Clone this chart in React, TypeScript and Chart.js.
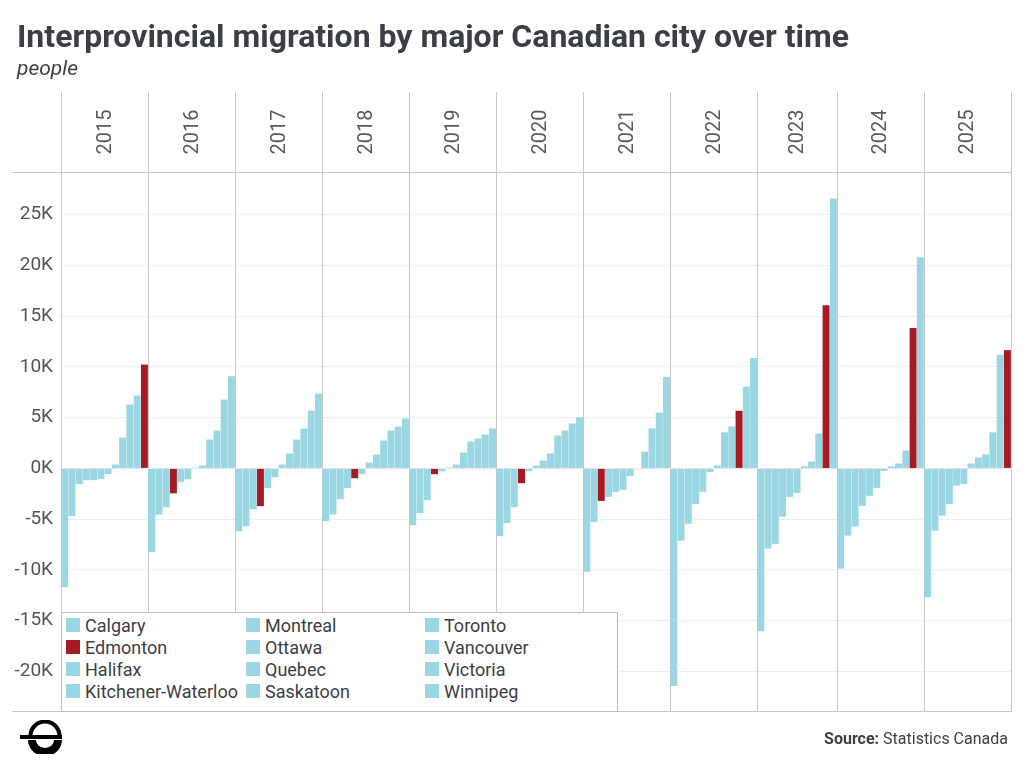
import React, { useEffect, useRef } from "react";
import { Chart, registerables } from "chart.js";

Chart.register(...registerables);

const TITLE = "Interprovincial migration by major Canadian city over time";
const SUBTITLE = "people";
const SOURCE_LABEL = "Source:";
const SOURCE_TEXT = "Statistics Canada";

const YEARS = ["2015", "2016", "2017", "2018", "2019", "2020", "2021", "2022", "2023", "2024", "2025"];

const CITIES = [
  "Calgary",
  "Edmonton",
  "Halifax",
  "Kitchener-Waterloo",
  "Montreal",
  "Ottawa",
  "Quebec",
  "Saskatoon",
  "Toronto",
  "Vancouver",
  "Victoria",
  "Winnipeg",
];

// values per city, one per year (people); null = no bar
const CALGARY = [7180, -8250, -5700, -3040, 90, 280, -2110, 10880, 26590, 20810, 11190];
const EDMONTON = [10230, -2460, -3720, -970, -570, -1460, -3200, 5680, 16080, 13830, 11650];
const HALIFAX = [-1060, 280, 1470, 1370, 1560, 3240, 9020, 8050, 3430, 1760, 3550];
const KITCHENER_WATERLOO = [-570, 2840, 2840, 2740, 2650, 1470, 1650, -2310, -2420, -1920, -1530];
const MONTREAL = [-4700, -3830, -4020, -4550, -4410, -5400, -2810, -5450, -7430, -5720, -4670];
const OTTAWA = [380, 3730, 3930, 3730, 3930, 4420, 3940, 3550, -2810, -2700, -1690];
const QUEBEC = [-1160, 90, 380, 580, 380, 780, -50, 290, 680, 210, 1070];
const SASKATOON = [-1160, -1070, -870, -570, -280, -280, -760, -370, 210, 480, 1380];
const TORONTO = [-11690, -4550, -6200, -5200, -5590, -6680, -10180, -21450, -16040, -9870, -12700];
const VANCOUVER = [6290, 9080, 7380, 4120, 2940, 3730, -5290, -7120, -7890, -6620, -6150];
const VICTORIA = [3040, 6780, 5700, 4910, 3340, 5010, 5500, 4130, null, -250, 480];
const WINNIPEG = [-1550, -1360, -1950, -1950, -3130, -3830, -2310, -3510, -4750, -3700, -3510];

const VALUES: (number | null)[][] = [
  CALGARY,
  EDMONTON,
  HALIFAX,
  KITCHENER_WATERLOO,
  MONTREAL,
  OTTAWA,
  QUEBEC,
  SASKATOON,
  TORONTO,
  VANCOUVER,
  VICTORIA,
  WINNIPEG,
];

const HIGHLIGHT = "Edmonton";
const Y_MIN = -24000;
const Y_MAX = 29200;
const Y_TICKS = [-20000, -15000, -10000, -5000, 0, 5000, 10000, 15000, 20000, 25000];

const BLUE = "#9ad7e2";
const RED = "#a61b23";
const LINE = "#c8c8c8";
const GRID = "#ededed";
const TEXT = "#3b3f45";

// Build slot layout: within each year, bars sorted ascending
const slotLabels: string[] = [];
const slotOf: (number | null)[][] = CITIES.map(() => YEARS.map(() => null));
const yearRanges: { start: number; end: number }[] = [];
YEARS.forEach((yr, yi) => {
  const present = CITIES.map((_, ci) => ci).filter((ci) => VALUES[ci][yi] != null);
  present.sort((a, b) => (VALUES[a][yi] as number) - (VALUES[b][yi] as number));
  const start = slotLabels.length;
  present.forEach((ci, r) => {
    slotOf[ci][yi] = slotLabels.length;
    slotLabels.push(`${yr}-${r + 1}`);
  });
  yearRanges.push({ start, end: slotLabels.length - 1 });
});

const panelPlugin = {
  id: "panels",
  beforeDatasetsDraw(chart: any) {
    const { ctx, chartArea, scales } = chart;
    const x = scales.x;
    const step = x.getPixelForValue(1) - x.getPixelForValue(0);
    const bounds: number[] = [x.getPixelForValue(0) - step / 2];
    yearRanges.forEach((r, i) => {
      if (i < yearRanges.length - 1) {
        bounds.push((x.getPixelForValue(r.end) + x.getPixelForValue(yearRanges[i + 1].start)) / 2);
      }
    });
    bounds.push(chartArea.right);
    ctx.save();
    ctx.strokeStyle = LINE;
    ctx.lineWidth = 1;
    // horizontal header / footer lines
    ctx.beginPath();
    ctx.moveTo(12, Math.round(chartArea.top) + 0.5);
    ctx.lineTo(chartArea.right, Math.round(chartArea.top) + 0.5);
    ctx.moveTo(12, Math.round(chartArea.bottom) - 0.5);
    ctx.lineTo(chartArea.right, Math.round(chartArea.bottom) - 0.5);
    ctx.stroke();
    // vertical separators
    ctx.beginPath();
    bounds.forEach((b) => {
      const bx = Math.round(b) + 0.5;
      ctx.moveTo(bx, 92);
      ctx.lineTo(bx, chartArea.bottom);
    });
    ctx.stroke();
    // year labels
    ctx.fillStyle = "#5a5a5a";
    ctx.font = "20px Roboto";
    ctx.textAlign = "center";
    ctx.textBaseline = "middle";
    YEARS.forEach((yr, i) => {
      const cx = (bounds[i] + bounds[i + 1]) / 2;
      ctx.save();
      ctx.translate(cx + 1, 132);
      ctx.rotate(-Math.PI / 2);
      ctx.fillText(yr, 0, 0);
      ctx.restore();
    });
    ctx.restore();
  },
  afterDatasetsDraw(chart: any) {
    const { ctx, chartArea, scales } = chart;
    const y0 = Math.round(scales.y.getPixelForValue(0)) + 0.5;
    ctx.save();
    ctx.strokeStyle = "rgba(215,215,215,0.9)";
    ctx.lineWidth = 1;
    ctx.setLineDash([1, 2]);
    ctx.beginPath();
    ctx.moveTo(chartArea.left, y0);
    ctx.lineTo(chartArea.right, y0);
    ctx.stroke();
    ctx.restore();
  },
};

function Logo() {
  return (
    <svg
      width={46}
      height={34}
      viewBox="0 0 46 34"
      style={{ position: "absolute", left: 18, top: 720 }}
    >
      <path d="M 12.5 16 A 14.5 14.5 0 0 1 41.5 16" stroke="#000" strokeWidth={4} fill="none" />
      <rect x={2} y={15} width={42} height={4} fill="#000" />
      <path d="M 14 20 A 13 12 0 0 0 40 20" stroke="#000" strokeWidth={8} fill="none" />
    </svg>
  );
}

export default function App() {
  const canvasRef = useRef<HTMLCanvasElement | null>(null);

  useEffect(() => {
    if (!canvasRef.current) return;
    const datasets = CITIES.map((city, ci) => ({
      label: city,
      data: YEARS.flatMap((_, yi) => {
        const v = VALUES[ci][yi];
        const s = slotOf[ci][yi];
        return v == null || s == null ? [] : [{ x: slotLabels[s], y: v }];
      }),
      backgroundColor: city === HIGHLIGHT ? RED : BLUE,
      grouped: false,
      barPercentage: 0.96,
      categoryPercentage: 1,
      borderWidth: 0,
    }));
    const chart = new Chart(canvasRef.current, {
      type: "bar",
      data: { labels: slotLabels, datasets: datasets as any },
      plugins: [panelPlugin],
      options: {
        responsive: false,
        animation: false,
        devicePixelRatio: 1,
        layout: { padding: { top: 172, right: 13, bottom: 56, left: 0 } },
        plugins: { legend: { display: false }, tooltip: { enabled: false } },
        scales: {
          x: { type: "category", display: false, offset: true },
          y: {
            min: Y_MIN,
            max: Y_MAX,
            border: { display: false },
            grid: { drawTicks: false, color: GRID },
            afterBuildTicks: (s: any) => {
              s.ticks = Y_TICKS.map((v) => ({ value: v }));
            },
            ticks: {
              padding: 8,
              color: "#555",
              font: { family: "Roboto", size: 19 },
              callback: (v: any) => `${Number(v) / 1000}K`,
            },
            afterFit: (s: any) => {
              s.width = 61;
            },
          },
        },
      } as any,
    });
    return () => chart.destroy();
  }, []);

  const rows = 4;
  const colLeft = [4, 184, 363];

  return (
    <div
      style={{
        position: "absolute",
        left: 0,
        top: 0,
        width: 1024,
        height: 768,
        background: "#fff",
        fontFamily: "Roboto, sans-serif",
        overflow: "hidden",
      }}
    >
      <canvas ref={canvasRef} width={1024} height={768} style={{ position: "absolute", left: 0, top: 0, width: 1024, height: 768 }} />
      <div
        style={{
          position: "absolute",
          left: 17,
          top: 20,
          fontSize: 32,
          lineHeight: "32px",
          fontWeight: 700,
          color: TEXT,
          whiteSpace: "nowrap",
        }}
      >
        {TITLE}
      </div>
      <div
        style={{
          position: "absolute",
          left: 17,
          top: 58,
          fontSize: 21,
          lineHeight: "21px",
          fontStyle: "italic",
          color: TEXT,
        }}
      >
        {SUBTITLE}
      </div>
      <div
        style={{
          position: "absolute",
          left: 61,
          top: 612,
          width: 555,
          height: 98,
          border: "1px solid #bdbdbd",
          background: "#fff",
        }}
      >
        {CITIES.map((city, i) => {
          const col = Math.floor(i / rows);
          const row = i % rows;
          return (
            <div
              key={city}
              style={{
                position: "absolute",
                left: colLeft[col] ?? col * 180 + 4,
                top: 1 + row * 22,
                height: 22,
                display: "flex",
                alignItems: "center",
                fontSize: 18,
                color: TEXT,
                whiteSpace: "nowrap",
              }}
            >
              <span
                style={{
                  display: "inline-block",
                  width: 14,
                  height: 14,
                  background: city === HIGHLIGHT ? RED : BLUE,
                  marginRight: 5,
                }}
              />
              {city}
            </div>
          );
        })}
      </div>
      <Logo />
      <div
        style={{
          position: "absolute",
          right: 16,
          top: 731,
          fontSize: 16,
          lineHeight: "16px",
          color: TEXT,
          whiteSpace: "nowrap",
        }}
      >
        <b>{SOURCE_LABEL}</b> {SOURCE_TEXT}
      </div>
    </div>
  );
}
